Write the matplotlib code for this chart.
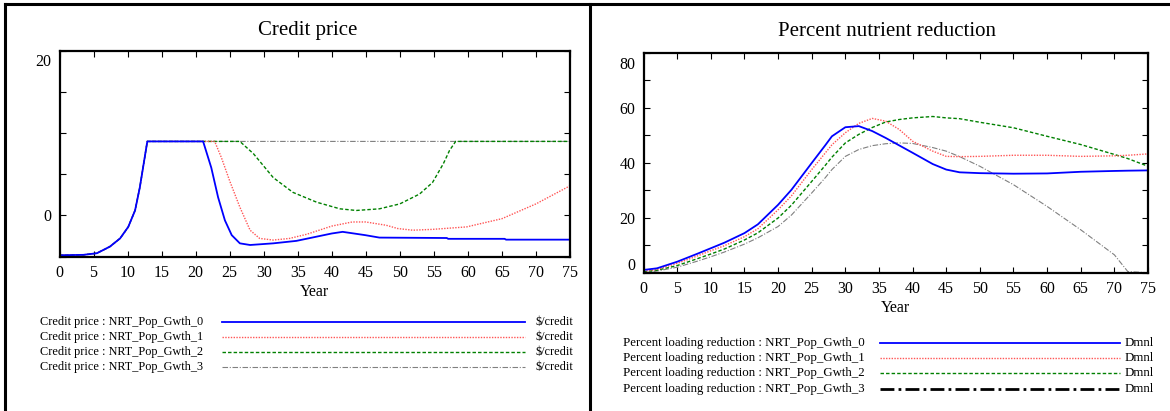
import numpy as np
import matplotlib
matplotlib.use("Agg")
import matplotlib.pyplot as plt
from matplotlib.lines import Line2D
from matplotlib.transforms import ScaledTranslation

plt.rcParams['font.family'] = ['Liberation Serif', 'DejaVu Serif']

# -----------------------------
# data
# -----------------------------
rise_years = [0, 3.5, 5.5, 7.4, 8.9, 10.1, 11.1, 11.8, 12.9]
rise_vals = [-4.85, -4.8, -4.6, -3.8, -2.8, -1.4, 0.6, 3.4, 9.0]

cp0_years = rise_years + [21.1, 22.3, 23.3, 24.3, 25.3, 26.5, 28, 31.4, 34.8, 40, 41.6,
                          44.9, 47, 56.9, 57.1, 65.4, 65.6, 75]
cp0_vals = rise_vals + [9.0, 5.8, 2.2, -0.6, -2.4, -3.4, -3.6, -3.4, -3.1, -2.2, -2.0,
                        -2.4, -2.7, -2.75, -2.85, -2.85, -2.95, -2.95]

cp1_years = rise_years + [22.8, 23.8, 25, 26.5, 28, 29.4, 31.4, 33.8, 36.3, 40, 43, 45,
                          48, 49.7, 51.9, 54.8, 59.8, 65, 70, 75]
cp1_vals = rise_vals + [9.0, 7.0, 4.2, 1.0, -1.8, -2.8, -3.0, -2.8, -2.3, -1.3, -0.8, -0.8,
                        -1.2, -1.6, -1.8, -1.7, -1.4, -0.4, 1.4, 3.6]

cp2_years = rise_years + [26.5, 28.5, 30, 31.4, 34.3, 37.8, 41.2, 43.6, 47, 50, 52.9,
                          54.8, 56.4, 57.3, 58.2, 75]
cp2_vals = rise_vals + [9.0, 7.5, 6.0, 4.6, 2.8, 1.6, 0.8, 0.6, 0.8, 1.4, 2.6,
                        4.0, 6.3, 7.9, 9.0, 9.0]

cp3_years = rise_years + [75]
cp3_vals = rise_vals + [9.0]

pr_years = [0, 2, 5, 8, 10, 12, 15, 17, 20, 22, 25, 27, 28, 30, 32, 34, 36, 38, 40, 43,
            45, 47, 50, 55, 60, 65, 70, 72, 75]
pr0_vals = [1.0, 1.6, 4.0, 6.9, 8.9, 10.9, 14.4, 17.6, 24.7, 30.2, 39.9, 46.3, 49.6, 52.9,
            53.3, 51.5, 49.0, 46.3, 43.6, 39.5, 37.5, 36.5, 36.2, 36.0, 36.1, 36.7, 37.0,
            37.1, 37.2]
pr1_vals = [0.5, 1.2, 3.4, 6.1, 8.0, 9.8, 13.1, 16.0, 22.9, 28.0, 37.5, 43.5, 46.5, 50.9,
            54.3, 56.1, 55.1, 52.1, 47.8, 44.2, 42.3, 42.2, 42.3, 42.7, 42.7, 42.3, 42.5,
            42.7, 43.2]
pr2_vals = [0.3, 0.9, 2.6, 5.1, 6.8, 8.6, 11.9, 14.5, 19.9, 24.6, 33.2, 39.0, 42.0, 47.2,
            50.3, 52.8, 54.8, 55.7, 56.3, 56.8, 56.3, 56.0, 54.7, 52.7, 49.6, 46.6, 43.0,
            41.5, 38.7]
pr3_vals = [0.0, 0.6, 2.0, 4.2, 5.8, 7.5, 10.4, 12.7, 16.8, 21.0, 29.0, 34.5, 37.5, 42.3,
            44.8, 46.2, 46.9, 47.2, 47.0, 45.5, 44.2, 42.2, 38.7, 32.0, 24.1, 15.6, 6.5,
            0.4, 0.0]

scenarios = ["NRT_Pop_Gwth_0", "NRT_Pop_Gwth_1", "NRT_Pop_Gwth_2", "NRT_Pop_Gwth_3"]

# styles per scenario
colors = ["#0000ff", "#ff5555", "#008000", "#808080"]
widths = [1.3, 1.0, 1.0, 0.8]
styles = ["-", (0, (1, 1)), (0, (2.5, 1.5)), (0, (5, 1.5, 1, 1.5))]

W, H = 1170, 411
fig = plt.figure(figsize=(W / 100, H / 100), dpi=100)


def fx(x):
    return x / W


def fy(y):
    return 1 - y / H


# panel frames
for seg in [([5, 5], [4, H]), ([5, W], [4, 4]), ([590, 590], [4, H])]:
    fig.add_artist(Line2D([fx(v) for v in seg[0]], [fy(v) for v in seg[1]],
                          transform=fig.transFigure, color="black", lw=2.2))


def style_axes(ax):
    for sp in ax.spines.values():
        sp.set_linewidth(1.6)
    ax.tick_params(direction="in", length=4, width=0.8, top=True, right=True,
                   labelsize=11.5, pad=6)
    ax.set_xlim(0, 75)
    ax.set_xticks(np.arange(0, 80, 5))


def shift_label(lbl, dy_px):
    lbl.set_transform(lbl.get_transform() + ScaledTranslation(0, dy_px / 100, fig.dpi_scale_trans))


# -----------------------------
# left: credit price
# -----------------------------
ax1 = fig.add_axes([fx(59.5), fy(256.5), fx(570) - fx(59.5), fy(51) - fy(256.5)])
cp_years = [cp0_years, cp1_years, cp2_years, cp3_years]
cp_vals = [cp0_vals, cp1_vals, cp2_vals, cp3_vals]
for i in [3, 2, 1, 0]:
    ax1.plot(cp_years[i], cp_vals[i], color=colors[i], lw=widths[i], ls=styles[i])
style_axes(ax1)
ax1.set_ylim(-5, 20)
ax1.set_yticks([-5, 0, 5, 10, 15, 20])
ax1.set_yticklabels(["", "0", "", "", "", "20"])
fig.canvas.draw()
shift_label(ax1.get_yticklabels()[5], -9)
ax1.set_xlabel("Year", fontsize=11.5, labelpad=2)
fig.text(fx(308), fy(30), "Credit price", fontsize=15, ha="center", va="center")

# -----------------------------
# right: percent nutrient reduction
# -----------------------------
ax2 = fig.add_axes([fx(643.6), fy(272.7), fx(1148) - fx(643.6), fy(52.7) - fy(272.7)])
pr_vals = [pr0_vals, pr1_vals, pr2_vals, pr3_vals]
for i in [3, 2, 1, 0]:
    ax2.plot(pr_years, pr_vals[i], color=colors[i], lw=widths[i], ls=styles[i])
style_axes(ax2)
ax2.set_ylim(0, 80)
ax2.set_yticks(np.arange(0, 90, 10))
ax2.set_yticklabels(["0", "", "20", "", "40", "", "60", "", "80"])
fig.canvas.draw()
shift_label(ax2.get_yticklabels()[8], -10)
shift_label(ax2.get_yticklabels()[0], 9)
ax2.set_xlabel("Year", fontsize=11.5, labelpad=2)
fig.text(fx(887), fy(31), "Percent nutrient reduction", fontsize=15, ha="center", va="center")

# -----------------------------
# legends
# -----------------------------
left_rows = [322, 337, 352, 367]
for i, y in enumerate(left_rows):
    fig.text(fx(40), fy(y), f"Credit price : {scenarios[i]}", fontsize=8.8, va="center")
    fig.add_artist(Line2D([fx(222), fx(525)], [fy(y), fy(y)], transform=fig.transFigure,
                          color=colors[i], lw=widths[i], ls=styles[i]))
    fig.text(fx(535), fy(y), "$/credit", fontsize=8.8, va="center")

right_rows = [343, 358, 373, 389]
leg_colors = colors[:3] + ["black"]
leg_widths = widths[:3] + [2.0]
for i, y in enumerate(right_rows):
    fig.text(fx(623), fy(y), f"Percent loading reduction : {scenarios[i]}", fontsize=9.3,
             va="center")
    fig.add_artist(Line2D([fx(880), fx(1120)], [fy(y), fy(y)], transform=fig.transFigure,
                          color=leg_colors[i], lw=leg_widths[i], ls=styles[i]))
    fig.text(fx(1125), fy(y), "Dmnl", fontsize=9.3, va="center")

fig.savefig("out.png", dpi=100)
